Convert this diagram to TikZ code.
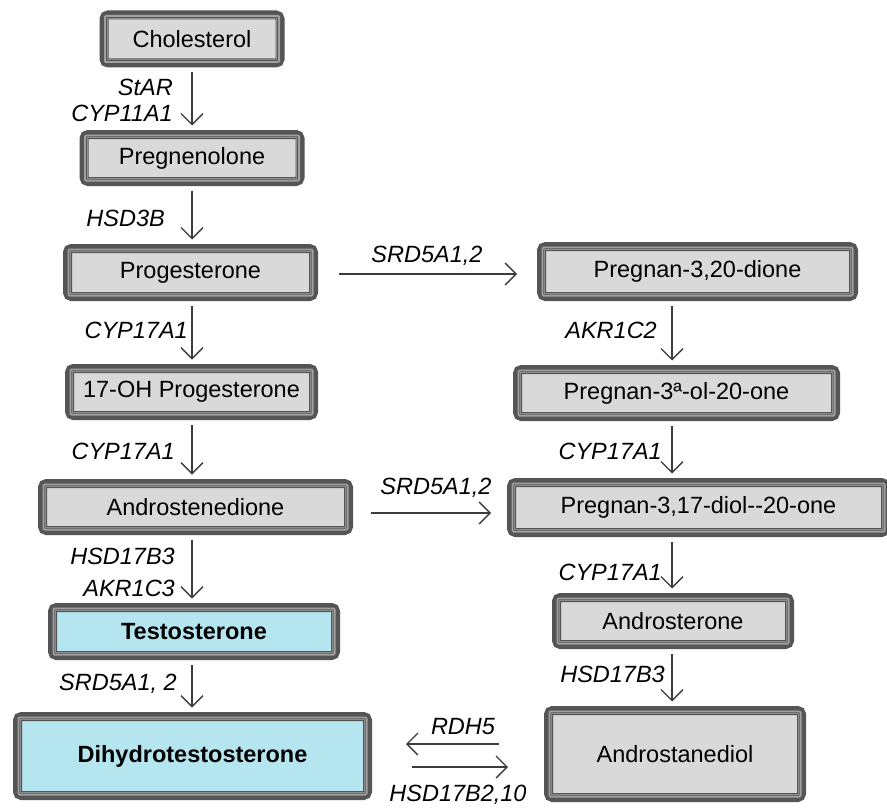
\documentclass[tikz,border=0pt]{standalone}
\usepackage{fontspec}
\setmainfont{Liberation Sans}
\usetikzlibrary{arrows.meta}
\definecolor{bdark}{HTML}{555555}
\definecolor{band}{HTML}{A0A0A0}
\definecolor{inline}{HTML}{8C8C8C}
\definecolor{boxgray}{HTML}{D9D9D9}
\definecolor{boxcyan}{HTML}{B5E6F0}
\definecolor{arrgray}{HTML}{3C3C3C}
\newcommand\boxfont{\fontsize{23.5}{27}\selectfont}
\newcommand\mkinner[1]{%
  \draw[line width=1.8pt, draw=band, rounded corners=1pt] ([shift={(5.4pt,-5.4pt)}]#1.north west) rectangle ([shift={(-5.4pt,5.4pt)}]#1.south east);
  \draw[line width=1pt, draw=inline] ([shift={(7.7pt,-7.7pt)}]#1.north west) rectangle ([shift={(-7.7pt,7.7pt)}]#1.south east);}
\tikzset{
  box/.style={draw=bdark, line width=9pt, rounded corners=4pt, fill=boxgray, inner sep=0pt, font=\boxfont, text=black},
  cyanbox/.style={box, fill=boxcyan, font=\boxfont\bfseries},
  arr/.style={draw=arrgray, line width=1.3pt, -{Straight Barb[length=11pt,width=22pt,line width=1.3pt]}},
  lab/.style={font=\boxfont\itshape, inner sep=0pt, text=black}
}
\begin{document}
\begin{tikzpicture}[x=1pt,y=-1pt]
\useasboundingbox (0,0) rectangle (887,808);
\fill[white] (0,0) rectangle (887,808);
% left column
\node[box, minimum width=176pt, minimum height=48pt] (chol) at (192,39) {Cholesterol};
\node[box, minimum width=216pt, minimum height=47pt] (preg) at (192,158) {Pregnenolone};
\node[box, minimum width=246pt, minimum height=48pt] (prog) at (190.5,272.5) {Progesterone};
\node[box, minimum width=244pt, minimum height=47pt] (ohp) at (191.5,392) {17-OH Progesterone};
\node[box, minimum width=306pt, minimum height=47pt] (andro) at (195.5,507) {Androstenedione};
\node[cyanbox, minimum width=283pt, minimum height=48pt] (testo) at (194,631.5) {Testosterone};
\node[cyanbox, minimum width=350pt, minimum height=79pt] (dht) at (192.5,756) {Dihydrotestosterone};
% right column
\node[box, minimum width=312pt, minimum height=50pt] (pdione) at (697.5,271.5) {Pregnan-3,20-dione};
\node[box, minimum width=318pt, minimum height=47pt] (pol) at (676.5,393) {Pregnan-3ª-ol-20-one};
\node[box, minimum width=374pt, minimum height=50pt] (pdiol) at (698.5,507.5) {Pregnan-3,17-diol-{}-20-one};
\node[box, minimum width=233pt, minimum height=47pt] (ands) at (673,621) {Androsterone};
\node[box, minimum width=253pt, minimum height=87pt] (adiol) at (675,754) {Androstanediol};
\foreach \n in {chol,preg,prog,ohp,andro,testo,dht,pdione,pol,pdiol,ands,adiol} {\mkinner{\n}}
% column coordinates
\coordinate (colL) at (192,0);
\coordinate (colR) at (672,0);
\coordinate (h1) at (0,274);
\coordinate (h2) at (0,513);
\coordinate (h3) at (0,744);
\coordinate (h4) at (0,767);
% vertical arrows
\begin{scope}[shorten <=4.5pt, shorten >=4.5pt]
\draw[arr] (chol.south -| colL) -- (preg.north -| colL);
\draw[arr] (preg.south -| colL) -- (prog.north -| colL);
\draw[arr] (prog.south -| colL) -- (ohp.north -| colL);
\draw[arr] (ohp.south -| colL) -- (andro.north -| colL);
\draw[arr] (andro.south -| colL) -- (testo.north -| colL);
\draw[arr] (testo.south -| colL) -- (dht.north -| colL);
\draw[arr] (pdione.south -| colR) -- (pol.north -| colR);
\draw[arr] (pol.south -| colR) -- (pdiol.north -| colR);
\draw[arr] (pdiol.south -| colR) -- (ands.north -| colR);
\draw[arr] (ands.south -| colR) -- (adiol.north -| colR);
\end{scope}
% horizontal arrows
\draw[arr, shorten <=21pt, shorten >=20pt] (prog.east |- h1) -- (pdione.west |- h1);
\draw[arr, shorten <=18pt, shorten >=16pt] (andro.east |- h2) -- (pdiol.west |- h2);
\draw[arr, shorten <=45pt, shorten >=34pt] (adiol.west |- h3) -- (dht.east |- h3);
\draw[arr, shorten <=40pt, shorten >=36pt] (dht.east |- h4) -- (adiol.west |- h4);
% labels
\node[lab, anchor=east] (l1) at (173,87) {StAR};
\node[lab, anchor=east] (l2) at (173,113) {CYP11A1};
\node[lab, anchor=east] (l3) at (165,218) {HSD3B};
\node[lab, anchor=east] (l4) at (188,330) {CYP17A1};
\node[lab, anchor=east] (l5) at (175,451) {CYP17A1};
\node[lab, anchor=east] (l6) at (175,556) {HSD17B3};
\node[lab, anchor=east] (l7) at (175,588) {AKR1C3};
\node[lab, anchor=east] (l8) at (177,684) {SRD5A1, 2};
\node[lab, anchor=east] (r1) at (657,330) {AKR1C2};
\node[lab, anchor=east] (r2) at (662,451) {CYP17A1};
\node[lab, anchor=east] (r3) at (662,572) {CYP17A1};
\node[lab, anchor=east] (r4) at (665,674) {HSD17B3};
\node[lab] (m1) at (427,256) {SRD5A1,2};
\node[lab] (m2) at (436,488) {SRD5A1,2};
\node[lab] (m3) at (463,727) {RDH5};
\node[lab] (m4) at (458,795) {HSD17B2,10};
\end{tikzpicture}
\end{document}
